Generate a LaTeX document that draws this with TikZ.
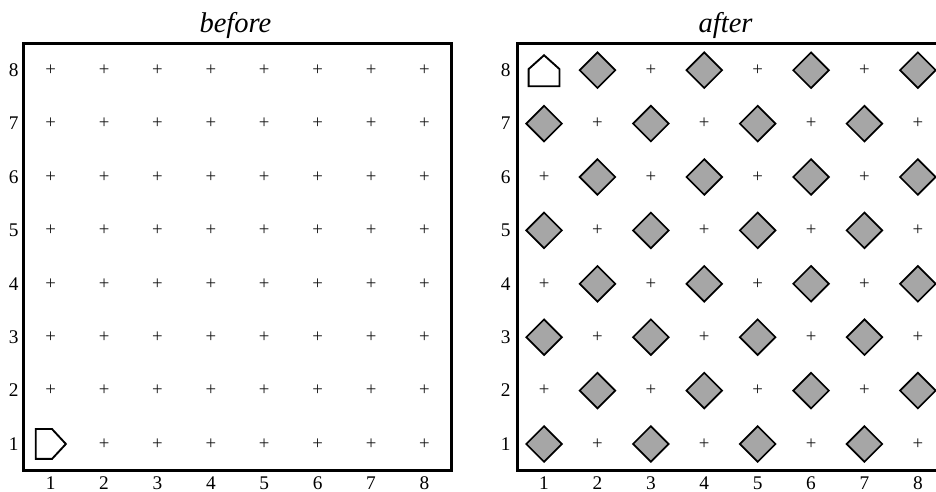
\documentclass[tikz,border=0pt]{standalone}
\usepackage{fontspec}
\setmainfont{Liberation Serif}
\usetikzlibrary{shapes, positioning}
\definecolor{cGray}{RGB}{166,166,166}

\begin{document}
\begin{tikzpicture}[
            tick/.style={font=\fontsize{10.3}{12}\selectfont, inner sep=0pt},
            cross/.style={font=\fontsize{10}{12}\selectfont, text=black!90, inner sep=0pt},
            tile/.style={diamond, draw=black, line width=0.9pt, fill=cGray, minimum width=0.68cm, minimum height=0.68cm, inner sep=0pt},
            bot/.style={draw=black, line width=1pt, fill=white},
            frame/.style={draw=black, line width=1.6pt},
            ttl/.style={font=\fontsize{15.2}{18}\selectfont\itshape, anchor=base, inner sep=0pt}]
            \useasboundingbox (0.051,0.101) rectangle (17.58,9.315);
            % before
            \node[ttl] (tb) at (4.46,8.715) {before};
            \draw[frame] (0.5,0.5) rectangle (8.5,8.5);
            \foreach \c in {1,...,8}{
              \node[tick] (bx\c) at (\c,0.27) {\c};
              \node[tick] (by\c) at (0.31,\c) {\c};
            }
            \foreach \c in {1,...,8}
              \foreach \r in {1,...,8}{
                \pgfmathtruncatemacro{\kind}{(\c==1 && \r==1) ? 1 : 0}
                \ifnum\kind=0 \node[cross] (b\c\r) at (\c,\r) {+};\fi
              }
            \coordinate (start) at (1,1);
            \draw[bot] ([shift={(-0.28,-0.28)}]start) -- ++(0,0.56) -- ++(0.305,0)
              -- ++(0.26,-0.28) -- ++(-0.26,-0.28) -- cycle;
            % after
            \begin{scope}[xshift=9.24cm]
              \node[ttl] (ta) at (4.40,8.715) {after};
              \draw[frame] (0.5,0.5) rectangle (8.5,8.5);
              \foreach \c in {1,...,8}{
                \node[tick] (ax\c) at (\c,0.27) {\c};
                \node[tick] (ay\c) at (0.28,\c) {\c};
              }
              \foreach \c in {1,...,8}
                \foreach \r in {1,...,8}{
                  \pgfmathtruncatemacro{\kind}{mod(\c+\r,2)==0 ? 0 : ((\c==1 && \r==8) ? 2 : 1)}
                  \ifcase\kind
                    \node[tile] (a\c\r) at (\c,\r) {};
                  \or
                    \node[cross] (a\c\r) at (\c,\r) {+};
                  \fi
                }
              \coordinate (goal) at (1,8);
              \draw[bot] ([shift={(-0.29,-0.3)}]goal) -- ++(0.58,0) -- ++(0,0.32)
                -- ++(-0.29,0.26) -- ++(-0.29,-0.26) -- cycle;
            \end{scope}
        \end{tikzpicture}
\end{document}
